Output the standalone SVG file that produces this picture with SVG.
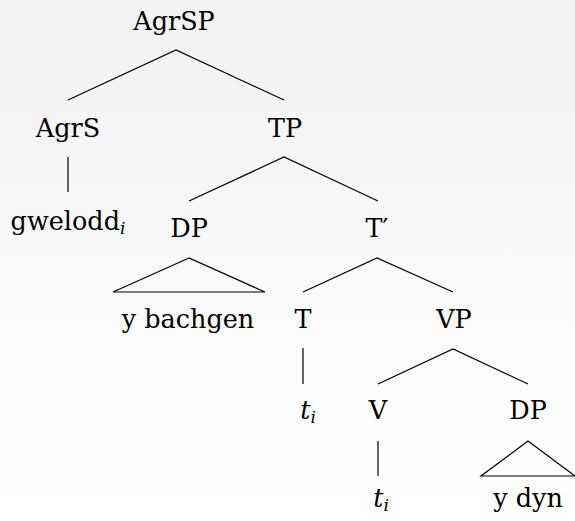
<svg xmlns="http://www.w3.org/2000/svg" width="575" height="521" viewBox="0 0 575 521">
  <defs>
    <linearGradient id="bg" x1="0" y1="0" x2="0" y2="1">
      <stop offset="0" stop-color="#f2f2f2"/>
      <stop offset="1" stop-color="#ffffff"/>
    </linearGradient>
    <style>
      .lbl { font-family: "DejaVu Serif", "Liberation Serif", serif; font-size: 25.5px; fill: #000; text-anchor: middle; }
      .sub { font-style: italic; font-size: 17px; }
      .it { font-style: italic; }
      .edge { stroke: #000; stroke-width: 1.2; fill: none; }
    </style>
  </defs>
  <rect width="575" height="521" fill="url(#bg)"/>

  <!-- branches -->
  <g id="connectors">
    <polyline class="edge" points="68,100 176,50 284,100"/>
    <line class="edge" x1="68" y1="157" x2="68" y2="192"/>
    <polyline class="edge" points="189,201 284,157 378,201"/>
    <polygon class="edge" points="189,258 113,292 265,292"/>
    <polyline class="edge" points="303,292 377,258 453,292"/>
    <line class="edge" x1="303" y1="348" x2="303" y2="384"/>
    <polyline class="edge" points="378,384 453,349 528,384"/>
    <line class="edge" x1="378" y1="441" x2="378" y2="476"/>
    <polygon class="edge" points="528,441 481,476 575,476"/>
  </g>

  <g id="AgrSP"><text class="lbl" x="174" y="29.5">AgrSP</text></g>
  <g id="AgrS"><text class="lbl" x="68" y="137">AgrS</text></g>
  <g id="TP"><text class="lbl" x="285" y="137">TP</text></g>
  <g id="gwelodd"><text class="lbl" x="68" y="230">gwelodd<tspan class="sub" dy="4">i</tspan></text></g>
  <g id="DP1"><text class="lbl" x="189" y="237">DP</text></g>
  <g id="Tbar"><text class="lbl" x="377" y="237">T′</text></g>
  <g id="ybachgen"><text class="lbl" x="188" y="328">y bachgen</text></g>
  <g id="T"><text class="lbl" x="303" y="328">T</text></g>
  <g id="VP"><text class="lbl" x="454" y="328">VP</text></g>
  <g id="trace1"><text class="lbl" x="308" y="419"><tspan class="it">t</tspan><tspan class="sub" dy="4">i</tspan></text></g>
  <g id="V"><text class="lbl" x="378" y="419">V</text></g>
  <g id="DP2"><text class="lbl" x="528" y="419">DP</text></g>
  <g id="trace2"><text class="lbl" x="381" y="507"><tspan class="it">t</tspan><tspan class="sub" dy="4">i</tspan></text></g>
  <g id="ydyn"><text class="lbl" x="528" y="507">y dyn</text></g>
</svg>
